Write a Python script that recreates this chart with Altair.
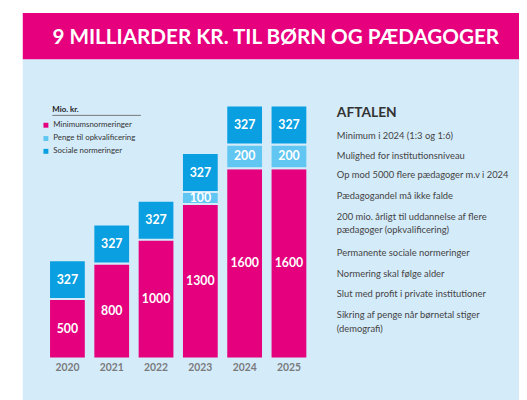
import altair as alt
import pandas as pd

# ---- data ----
years = ["2020", "2021", "2022", "2023", "2024", "2025"]
minimum = [500, 800, 1000, 1300, 1600, 1600]
opkval = [0, 0, 0, 100, 200, 200]
sociale = [327, 327, 327, 327, 327, 327]
series_names = ["Minimumsnormeringer", "Penge til opkvalificering", "Sociale normeringer"]
series_colors = ["#e5007d", "#62c6f2", "#0a9fe0"]

title_text = "9 MILLIARDER KR. TIL BØRN OG PÆDAGOGER"
legend_title = "Mio. kr."
aftalen_title = "AFTALEN"
aftalen_lines = [
    "Minimum i 2024 (1:3 og 1:6)",
    "Mulighed for institutionsniveau",
    "Op mod 5000 flere pædagoger m.v i 2024",
    "Pædagogandel må ikke falde",
    "200 mio. årligt til uddannelse af flere",
    "pædagoger (opkvalificering)",
    "Permanente sociale normeringer",
    "Normering skal følge alder",
    "Slut med profit i private institutioner",
    "Sikring af penge når børnetal stiger",
    "(demografi)",
]
aftalen_y = [127, 147, 167, 188, 209, 222, 246, 267, 287, 309, 323]

# ---- build tables ----
rows = []
for i, y in enumerate(years):
    base = 0
    for name, vals in zip(series_names, [minimum, opkval, sociale]):
        v = vals[i]
        if v > 0:
            rows.append({"year": y, "series": name, "start": base, "end": base + v,
                         "mid": base + v / 2, "label": str(v)})
            base += v
bars_df = pd.DataFrame(rows)
years_df = pd.DataFrame({"year": years})
one = pd.DataFrame({"a": [0]})
legend_df = pd.DataFrame({"series": series_names, "ly": [116, 129.5, 142.5]})
aft_df = pd.DataFrame({"t": aftalen_lines, "ty": aftalen_y})

W, H = 519, 392
BG = "#d4ebfa"
xscale = alt.Scale(domain=years, range=[41.7, 304.0], paddingInner=0.171, paddingOuter=0)
yscale = alt.Scale(domain=[0, 2127], range=[353, 96])
cscale = alt.Scale(domain=series_names, range=series_colors)

panel = alt.Chart(one).mark_rect(color=BG).encode(
    x=alt.value(15), x2=alt.value(W + 20), y=alt.value(49), y2=alt.value(H + 20))
header = alt.Chart(one).mark_rect(color="#e6007e").encode(
    x=alt.value(15), x2=alt.value(W + 20), y=alt.value(2), y2=alt.value(49))
title = alt.Chart(one).mark_text(
    text=title_text, color="white", font="Lato", fontWeight="bold", fontSize=21,
    align="center", baseline="middle").encode(x=alt.value(272), y=alt.value(28))

bars = alt.Chart(bars_df).mark_bar(stroke=BG, strokeWidth=2).encode(
    x=alt.X("year:N", scale=xscale, axis=None),
    y=alt.Y("start:Q", scale=yscale, axis=None),
    y2="end:Q",
    color=alt.Color("series:N", scale=cscale, legend=None),
)
bar_labels = alt.Chart(bars_df).mark_text(
    color="white", font="Lato", fontWeight="bold", fontSize=12.5, baseline="middle").encode(
    x=alt.X("year:N", scale=xscale, axis=None),
    y=alt.Y("mid:Q", scale=yscale, axis=None),
    text="label:N",
)
year_labels = alt.Chart(years_df).mark_text(
    color="#7a7a7a", font="Lato", fontWeight="bold", fontSize=10.5, baseline="middle").encode(
    x=alt.X("year:N", scale=xscale, axis=None),
    y=alt.value(363),
    text="year:N",
)

leg_title = alt.Chart(one).mark_text(
    text=legend_title, color="#222", font="Lato", fontWeight="bold", fontSize=8,
    align="left", baseline="middle").encode(x=alt.value(45), y=alt.value(101))
leg_line = alt.Chart(one).mark_rule(color="#777", strokeWidth=1).encode(
    x=alt.value(45), x2=alt.value(135), y=alt.value(106))
leg_sq = alt.Chart(legend_df).mark_square(size=25, opacity=1).encode(
    x=alt.value(38.5), y=alt.Y("ly:Q", scale=None),
    color=alt.Color("series:N", scale=cscale, legend=None))
leg_txt = alt.Chart(legend_df).mark_text(
    color="#333", font="Lato", fontSize=8, align="left", baseline="middle").encode(
    x=alt.value(46), y=alt.Y("ly:Q", scale=None), text="series:N")

aft_title = alt.Chart(one).mark_text(
    text=aftalen_title, color="#333", font="Lato", fontWeight="bold", fontSize=14,
    align="left", baseline="middle").encode(x=alt.value(334), y=alt.value(104))
aft_txt = alt.Chart(aft_df).mark_text(
    color="#444", font="Lato", fontSize=9.5, align="left", baseline="middle").encode(
    x=alt.value(334), y=alt.Y("ty:Q", scale=None), text="t:N")

chart = alt.layer(
    panel, header, title, bars, bar_labels, year_labels,
    leg_title, leg_line, leg_sq, leg_txt, aft_title, aft_txt
).properties(
    width=W, height=H, padding=0, autosize=alt.AutoSizeParams(type="none"),
    background="white"
).configure_view(stroke=None)

chart.save("out.html", embed_options={"renderer": "svg", "actions": False})
